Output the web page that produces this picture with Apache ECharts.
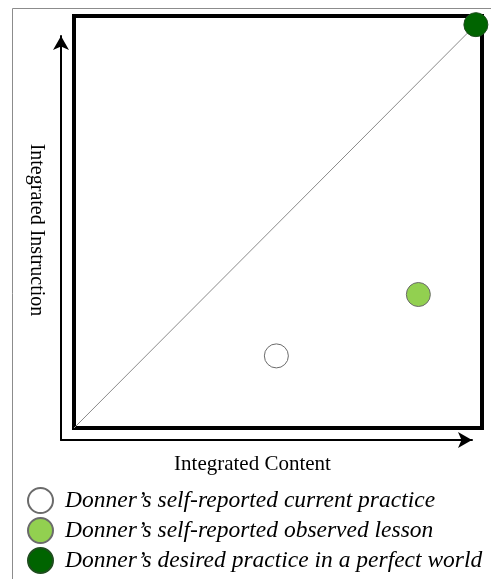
<!DOCTYPE html>
<html>
<head>
<meta charset="utf-8">
<script src="https://cdn.jsdelivr.net/npm/echarts@6/dist/echarts.min.js"></script>
<style>
  html, body { margin: 0; padding: 0; background: #fff; }
  #chart { width: 491px; height: 579px; }
</style>
</head>
<body>
<div id="chart"></div>
<script>
// series names (legend order)
const seriesNames = [
  'Donner\u2019s self-reported current practice',
  'Donner\u2019s self-reported observed lesson',
  'Donner\u2019s desired practice in a perfect world'
]
const seriesColors = ['#ffffff', '#92d050', '#006400']
// [integrated content, integrated instruction] on a 0-100 scale
const currentPractice = [[49.6, 17.5]]
const observedLesson = [[84.4, 32.4]]
const desiredPractice = [[98.5, 97.9]]
// the diagonal reference line
const diagonal = [[0, 0], [98.5, 97.9]]

const xName = 'Integrated Content'
const yName = 'Integrated Instruction'

const chart = echarts.init(document.getElementById('chart'))

const pointSeries = [currentPractice, observedLesson, desiredPractice].map((d, i) => ({
  name: seriesNames[i],
  type: 'scatter',
  xAxisIndex: 0,
  yAxisIndex: 0,
  data: d,
  symbol: 'circle',
  symbolSize: 24,
  clip: false,
  z: 5,
  itemStyle: {
    color: seriesColors[i],
    borderColor: i === 2 ? '#1e4d1e' : '#6b6b6b',
    borderWidth: 1,
    opacity: 1
  }
}))

chart.setOption({
  animation: false,
  graphic: [{
    type: 'polyline',
    shape: { points: [[12.5, 579], [12.5, 8.5], [491, 8.5]] },
    style: { stroke: '#8c8c8c', lineWidth: 1, fill: null },
    silent: true
  }],
  grid: [
    // thick square
    { left: 74, top: 16, right: 9, bottom: 151, show: true, borderColor: '#000', borderWidth: 4, backgroundColor: '#fff' },
    // arrows
    { left: 61, top: 36, right: 19, bottom: 139 }
  ],
  xAxis: [
    { gridIndex: 0, type: 'value', min: 0, max: 100, show: false },
    {
      gridIndex: 1, type: 'value', min: 0, max: 1,
      axisLine: { show: true, onZero: false, symbol: ['none', 'arrow'], symbolSize: [12, 14], lineStyle: { color: '#000', width: 2 } },
      axisTick: { show: false }, axisLabel: { show: false }, splitLine: { show: false },
      name: xName, nameLocation: 'middle', nameGap: 14,
      nameTextStyle: { fontFamily: 'Liberation Serif', fontSize: 21, color: '#000', padding: [0, 28, 0, 0] }
    }
  ],
  yAxis: [
    { gridIndex: 0, type: 'value', min: 0, max: 100, show: false },
    {
      gridIndex: 1, type: 'value', min: 0, max: 1,
      axisLine: { show: true, onZero: false, symbol: ['none', 'arrow'], symbolSize: [12, 14], lineStyle: { color: '#000', width: 2 } },
      axisTick: { show: false }, axisLabel: { show: false }, splitLine: { show: false },
      name: yName, nameLocation: 'middle', nameGap: 15, nameRotate: -90,
      nameTextStyle: { fontFamily: 'Liberation Serif', fontSize: 20, color: '#000', padding: [0, 16, 0, 0] }
    }
  ],
  legend: {
    orient: 'vertical',
    left: 27,
    top: 487,
    padding: 0,
    itemWidth: 25,
    itemHeight: 25,
    itemGap: 3,
    data: seriesNames,
    icon: 'circle',
    selectedMode: false,
    textStyle: { fontFamily: 'Liberation Serif', fontStyle: 'italic', fontSize: 23.5, lineHeight: 25, color: '#000', padding: [0, 0, 0, 7] }
  },
  series: [
    {
      type: 'line',
      xAxisIndex: 0,
      yAxisIndex: 0,
      data: diagonal,
      symbol: 'none',
      silent: true,
      z: 3,
      lineStyle: { color: '#8a8a8a', width: 1 }
    },
    ...pointSeries
  ]
})
</script>
</body>
</html>
